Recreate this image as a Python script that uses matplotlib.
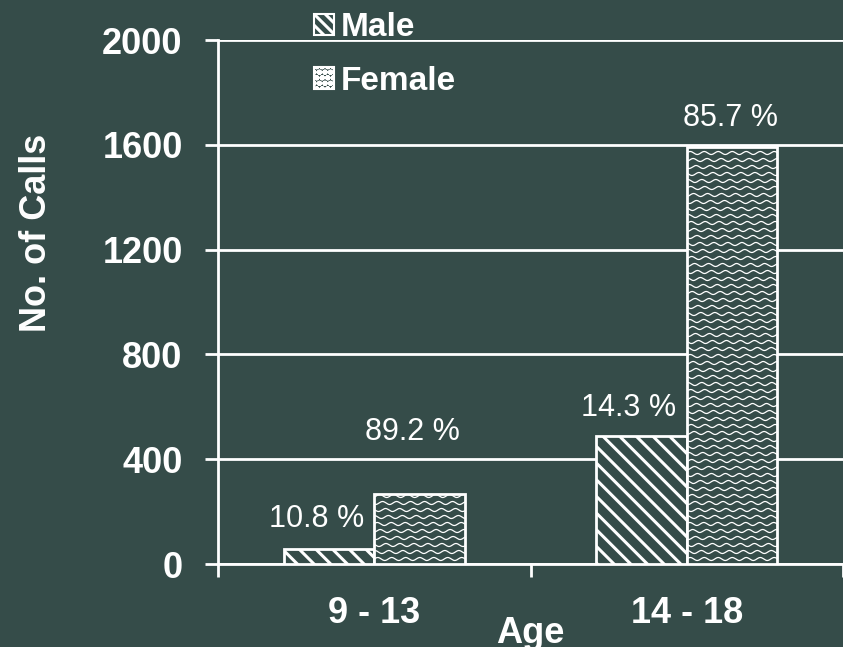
import numpy as np
import matplotlib.pyplot as plt
from matplotlib.patches import Patch

plt.rcParams['font.family'] = ['Liberation Sans', 'DejaVu Sans']
plt.rcParams['hatch.color'] = 'white'
plt.rcParams['hatch.linewidth'] = 2.2

# data
age_groups = ['9 - 13', '14 - 18']
male_calls = [57, 490]
female_calls = [267, 1590]
male_pct = ['10.8 %', '14.3 %']
female_pct = ['89.2 %', '85.7 %']
y_ticks = [0, 400, 800, 1200, 1600, 2000]

bg = '#354c49'
fg = 'white'

W, H = 843, 647
fig = plt.figure(figsize=(W / 100, H / 100), dpi=100, facecolor=bg)
ax = fig.add_axes([218 / W, 83 / H, 1 - 218 / W, 524 / H])
ax.set_facecolor(bg)

x = np.arange(len(age_groups))
w = 0.29

ax.set_xlim(-0.5, 1.5)
ax.set_ylim(0, 2000)

# =========================================================
# Bars
# =========================================================
ax.bar(x - w / 2, male_calls, w, facecolor=bg, edgecolor=fg,
       linewidth=2, hatch='\\\\', zorder=3)
fbars = ax.bar(x + w / 2, female_calls, w, facecolor=bg, edgecolor=fg,
               linewidth=2, zorder=3)

# wavy fill for the female bars, clipped to each bar
dx = 2.0 / 625      # data units per pixel (x)
dy = 2000.0 / 524   # data units per pixel (y)
for rect in fbars:
    x0, wd, ht = rect.get_x(), rect.get_width(), rect.get_height()
    xs = np.linspace(x0, x0 + wd, 240)
    for k, yb in enumerate(np.arange(5 * dy, ht, 7 * dy)):
        ys = yb + 1.5 * dy * np.sin(2 * np.pi * (xs - x0) / (14 * dx) + k * 1.3)
        ln, = ax.plot(xs, ys, color=fg, linewidth=0.9, zorder=4)
        ln.set_clip_path(rect)

# percentage labels (offsets in points)
male_off = [(-9, 22), (-9, 20)]
female_off = [(-5, 45), (-1, 21)]
for xi, v, t, o in zip(x, male_calls, male_pct, male_off):
    ax.annotate(t, (xi - w / 2, v), xytext=o, textcoords='offset points',
                ha='center', va='center', color=fg, fontsize=22)
for xi, v, t, o in zip(x, female_calls, female_pct, female_off):
    ax.annotate(t, (xi + w / 2, v), xytext=o, textcoords='offset points',
                ha='center', va='center', color=fg, fontsize=22)

# =========================================================
# Axes styling
# =========================================================
ax.set_yticks(y_ticks)
ax.set_yticklabels([str(t) for t in y_ticks], fontsize=26, fontweight='bold', color=fg)
ax.set_xticks([-0.5, 0.5, 1.5])
ax.set_xticklabels([])
ax.set_xticks(x, minor=True)
ax.set_xticklabels(age_groups, minor=True, fontsize=26, fontweight='bold', color=fg)
ax.tick_params(axis='x', which='minor', length=0, pad=23)
ax.tick_params(axis='x', which='major', length=9, width=2, color=fg, direction='out')
ax.tick_params(axis='y', length=9.4, width=2, color=fg, pad=16)

ax.yaxis.grid(True, color=fg, linewidth=2, zorder=1)
ax.set_axisbelow(True)
for s in ['top', 'right']:
    ax.spines[s].set_visible(False)
for s in ['left', 'bottom']:
    ax.spines[s].set_color(fg)
    ax.spines[s].set_linewidth(2)

fig.text(37 / W, 1 - 233 / H, 'No. of Calls', rotation=90, ha='center', va='center',
         fontsize=26, fontweight='bold', color=fg)
fig.text(530 / W, 1 - 616 / H, 'Age', ha='center', va='top',
         fontsize=26, fontweight='bold', color=fg)

# legend
handles = [Patch(facecolor=bg, edgecolor=fg, hatch='\\\\\\', linewidth=1.5),
           Patch(facecolor=bg, edgecolor=fg, hatch='ooo', linewidth=1.5)]
fig.legend(handles, ['Male', 'Female'], loc='upper left',
           bbox_to_anchor=(314 / W, 1 - 12 / H), frameon=False,
           handlelength=0.6, handleheight=0.6,
           handletextpad=0.2, labelspacing=0.68, borderpad=0, borderaxespad=0,
           prop={'weight': 'bold', 'size': 24}, labelcolor=fg)

plt.savefig('out.png', dpi=100, facecolor=bg)
plt.close()
